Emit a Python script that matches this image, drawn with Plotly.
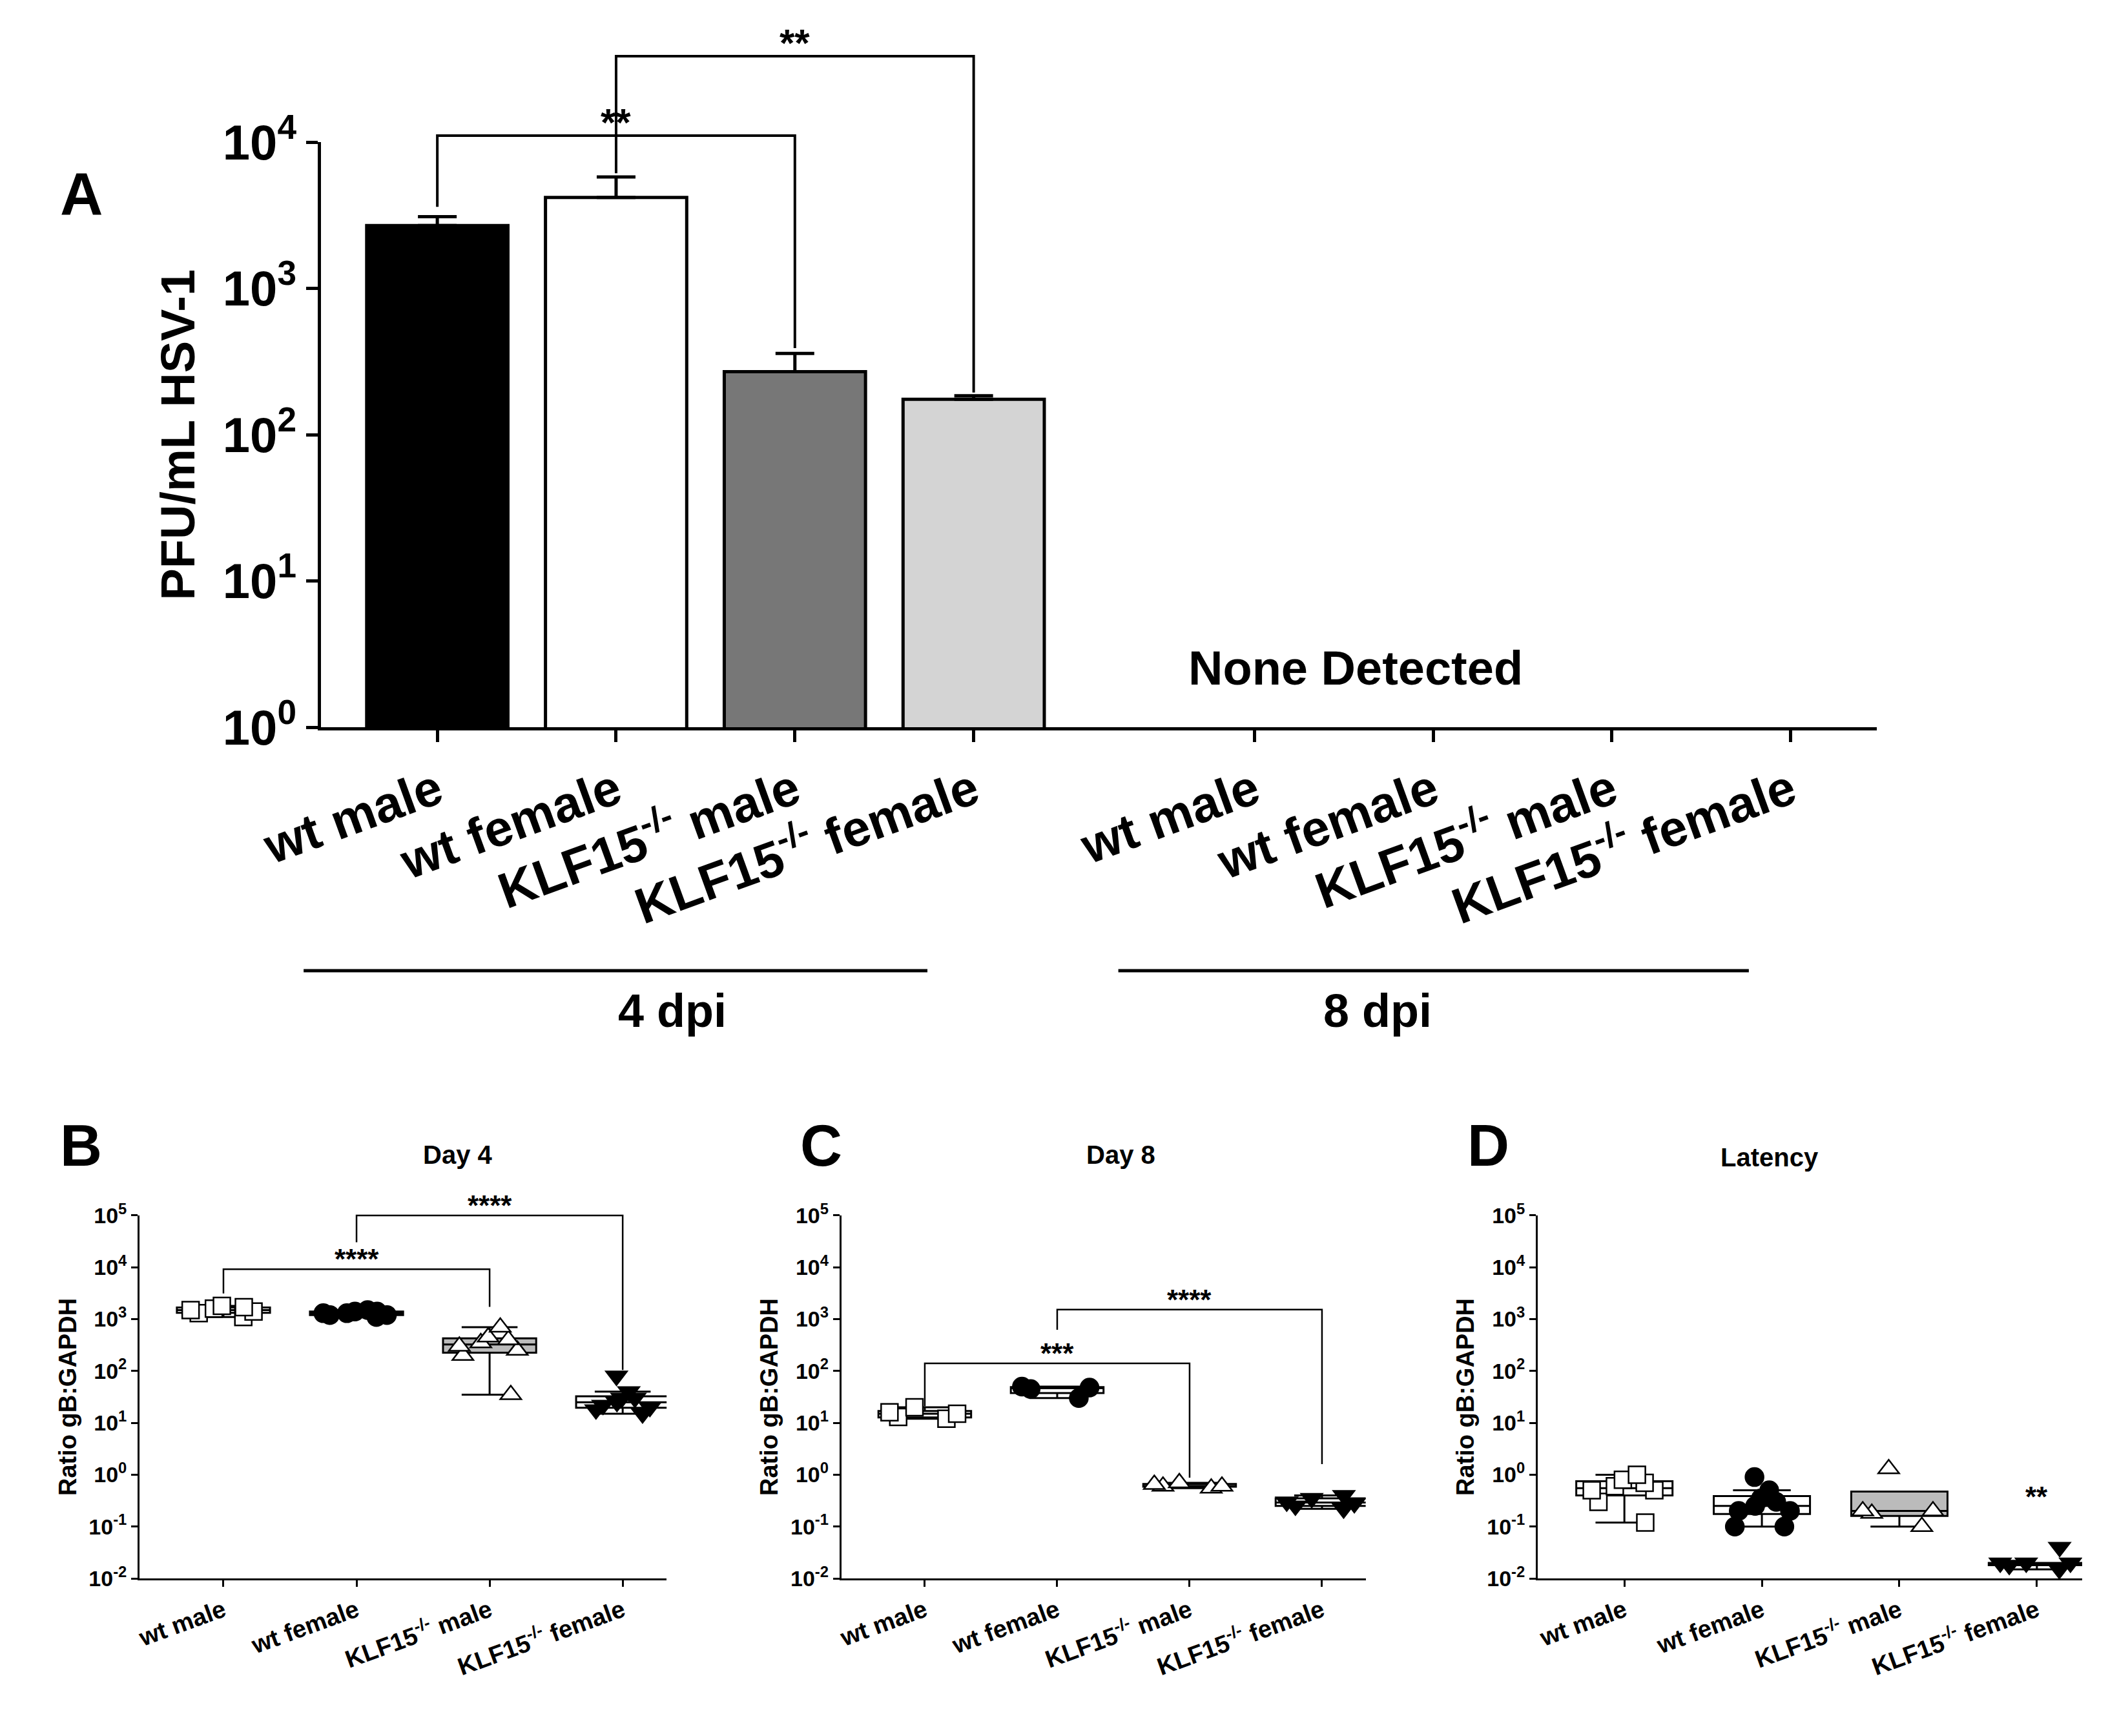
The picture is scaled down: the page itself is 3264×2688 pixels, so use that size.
import plotly.graph_objects as go

# ---- data ----
groups = ["wt male", "wt female", "KLF15<sup>-/-</sup> male", "KLF15<sup>-/-</sup> female"]
a_pos = [0, 1, 2, 3, 4.57, 5.57, 6.57, 7.57]
a_labels = groups + groups
a_mean = [2700, 4200, 270, 175]
a_err = [400, 1600, 90, 10]
a_colors = ["black", "white", "#777777", "#d4d4d4"]

b_vals = [
    [1500, 1800, 1600, 1100, 1400, 1700, 1300],
    [1300, 1500, 1400, 1200, 1100, 1300, 1400, 1200],
    [700, 400, 300, 250, 200, 35, 450, 350],
    [80, 40, 30, 25, 20, 18, 22, 30, 15],
]
c_vals = [
    [13, 20, 16, 12, 15],
    [30, 45, 50, 48],
    [0.6, 0.7, 0.65, 0.6, 0.55],
    [0.4, 0.3, 0.25, 0.35, 0.28, 0.22],
]
d_vals = [
    [0.7, 0.5, 0.12, 0.3, 0.8, 1.0, 0.5, 0.6],
    [0.25, 0.9, 0.5, 0.2, 0.1, 0.3, 0.35, 0.1, 0.2],
    [1.3, 0.2, 0.1, 0.18, 0.2],
    [0.04, 0.02, 0.015, 0.02, 0.018, 0.02],
]
a_ticks = [1, 10, 100, 1000, 10000]
a_tick_text = ["10<sup>0</sup>", "10<sup>1</sup>", "10<sup>2</sup>", "10<sup>3</sup>", "10<sup>4</sup>"]
s_ticks = [0.01, 0.1, 1, 10, 100, 1000, 10000, 100000]
s_tick_text = ["10<sup>-2</sup>", "10<sup>-1</sup>", "10<sup>0</sup>", "10<sup>1</sup>",
               "10<sup>2</sup>", "10<sup>3</sup>", "10<sup>4</sup>", "10<sup>5</sup>"]

FONT = "Liberation Sans"
H = 1291.0  # reference scale height
W = 1568.0


def py(p):
    return 1 - p / H


def px(p):
    return p / W


fig = go.Figure()

for i in range(4):
    fig.add_trace(go.Bar(x=[a_pos[i]], y=[a_mean[i]], width=0.79,
                         marker=dict(color=a_colors[i], line=dict(color="black", width=5)),
                         error_y=dict(type="data", symmetric=False, array=[a_err[i]], arrayminus=[0],
                                      color="black", thickness=5, width=30),
                         xaxis="x", yaxis="y", showlegend=False))

markers = [
    dict(symbol="square", color="white", line=dict(color="black", width=2.5), size=26),
    dict(symbol="circle", color="black", line=dict(color="black", width=2.5), size=28),
    dict(symbol="triangle-up", color="white", line=dict(color="black", width=2.5), size=28),
    dict(symbol="triangle-down", color="black", line=dict(color="black", width=2.5), size=28),
]
panels = [(b_vals, "2", ["white", "white", "#bbbbbb", "white"]),
          (c_vals, "3", ["white", "white", "white", "white"]),
          (d_vals, "4", ["white", "white", "#bbbbbb", "white"])]
for vals, ax, fills in panels:
    for i, v in enumerate(vals):
        fig.add_trace(go.Box(x=[i] * len(v), y=v, boxpoints="all", pointpos=0, jitter=0.9,
                             fillcolor=fills[i], line=dict(color="black", width=3),
                             marker=markers[i], width=0.7, whiskerwidth=0.6,
                             xaxis="x" + ax, yaxis="y" + ax, showlegend=False))

axis_common = dict(showline=True, linecolor="black", linewidth=5, ticks="outside",
                   tickcolor="black", tickwidth=5, showgrid=False, zeroline=False,
                   automargin=False)
fig.update_layout(
    width=3264, height=2688, plot_bgcolor="white", paper_bgcolor="white",
    margin=dict(l=0, r=0, t=0, b=0), font=dict(family=FONT, color="black"),
    xaxis=dict(axis_common, domain=[px(235), px(1392)], range=[-0.65, 8.05], anchor="y",
               tickvals=a_pos, ticktext=a_labels, tickangle=-20, ticklen=18,
               tickfont=dict(size=78, weight="bold")),
    yaxis=dict(axis_common, domain=[py(537), py(102)], type="log", range=[0, 4], anchor="x",
               tickvals=a_ticks, ticktext=a_tick_text, ticklen=18,
               tickfont=dict(size=76, weight="bold"),
               title=dict(text="PFU/mL HSV-1", font=dict(size=74, weight="bold"), standoff=20)),
)
sub_dom = {"2": [px(100), px(492)], "3": [px(622), px(1012)], "4": [px(1140), px(1545)]}
for ax, dom in sub_dom.items():
    fig.update_layout({
        "xaxis" + ax: dict(axis_common, domain=dom, range=[-0.63, 3.33], anchor="y" + ax,
                           tickvals=[0, 1, 2, 3], ticktext=groups, tickangle=-20, linewidth=3,
                           tickwidth=3, ticklen=10, tickfont=dict(size=38, weight="bold")),
        "yaxis" + ax: dict(axis_common, domain=[py(1170), py(900)], type="log", range=[-2, 5],
                           anchor="x" + ax, tickvals=s_ticks, ticktext=s_tick_text, linewidth=3,
                           tickwidth=3, ticklen=10, tickfont=dict(size=34, weight="bold"),
                           title=dict(text="Ratio gB:GAPDH", font=dict(size=38, weight="bold"),
                                      standoff=8)),
    })


def bracket(xa, x0, x1, ytop, yl, yr, label, lw, fs):
    fig.add_shape(type="path", xref=xa, yref="paper", line=dict(color="black", width=lw),
                  path=f"M {x0},{py(yl)} L {x0},{py(ytop)} L {x1},{py(ytop)} L {x1},{py(yr)}")
    fig.add_annotation(x=(x0 + x1) / 2, y=py(ytop), xref=xa, yref="paper", text=label,
                       yanchor="bottom", yshift=-fs * 0.25, showarrow=False,
                       font=dict(size=fs, weight="bold"))


bracket("x", 0, 2, 97, 150, 255, "**", 4, 60)
bracket("x", 1, 3, 38, 125, 288, "**", 4, 60)
bracket("x2", 0, 2, 940, 958, 968, "****", 2.5, 44)
bracket("x2", 1, 3, 900, 920, 1015, "****", 2.5, 44)
bracket("x3", 0, 2, 1010, 1042, 1095, "***", 2.5, 44)
bracket("x3", 1, 3, 970, 985, 1085, "****", 2.5, 44)
fig.add_annotation(x=3, y=py(1122), xref="x4", yref="paper", text="**", showarrow=False,
                   font=dict(size=44, weight="bold"))

# group underlines and texts
for x0, x1 in [(222, 686), (828, 1297)]:
    fig.add_shape(type="line", xref="paper", yref="paper", x0=px(x0), x1=px(x1),
                  y0=py(718), y1=py(718), line=dict(color="black", width=5))
texts = [("4 dpi", 455, 748, 72), ("8 dpi", 1062, 748, 72), ("None Detected", 1130, 493, 74),
         ("A", 40, 115, 92), ("B", 40, 848, 90), ("C", 607, 848, 90), ("D", 1120, 848, 90),
         ("Day 4", 310, 855, 40), ("Day 8", 830, 855, 40), ("Latency", 1350, 857, 40)]
for t, x, y, s in texts:
    fig.add_annotation(x=px(x), y=py(y), xref="paper", yref="paper", text=t, showarrow=False,
                       font=dict(size=s, weight="bold"))

fig.write_html("out.html")
